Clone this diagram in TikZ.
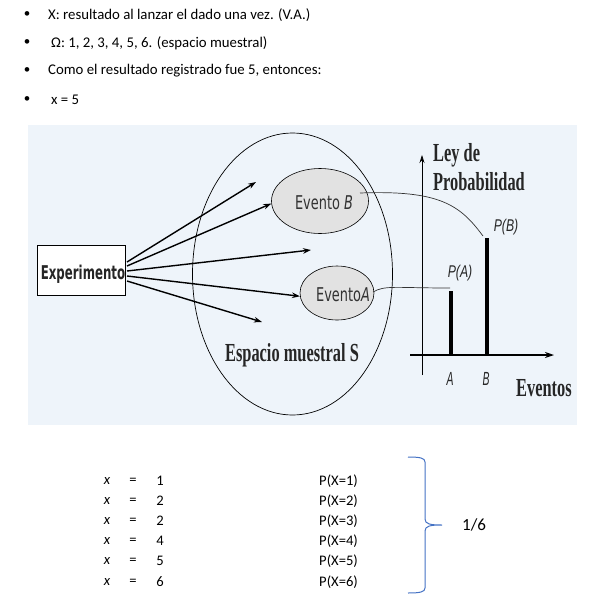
\documentclass[tikz,border=0pt]{standalone}
\usepackage{fontspec}
\setmainfont{Carlito}
\newfontfamily\condsans[FakeStretch=0.68]{DejaVu Sans}
\newfontfamily\condsansbold[FakeStretch=0.62]{DejaVu Sans Bold}
\newfontfamily\narrowsans[FakeStretch=0.72]{Liberation Sans}
\newfontfamily\narrowsansB[FakeStretch=0.55]{Liberation Sans}
\newfontfamily\condserif[FakeStretch=0.63]{Liberation Serif Bold}
\usetikzlibrary{arrows.meta,shapes.geometric}
\definecolor{bgblue}{HTML}{EEF4FA}
\definecolor{evgray}{HTML}{E2E2E2}
\definecolor{braceblue}{HTML}{4472C4}
\tikzset{
  bodytext/.style={anchor=west,inner sep=0pt,font=\fontsize{14.8}{17}\selectfont},
  bullet/.style={inner sep=0pt,font=\fontsize{13}{15}\selectfont},
  tabtext/.style={inner sep=0pt,font=\fontsize{14.6}{16}\selectfont},
  arr/.style={line width=1.4pt,-{Stealth[length=8pt,width=5.5pt]}},
  evell/.style={ellipse,draw,line width=0.6pt,fill=evgray,inner sep=0pt},
  evlab/.style={inner sep=0pt,font=\condsans\fontsize{19}{21}\selectfont,text=black!80},
  serlab/.style={inner sep=0pt,font=\condserif\fontsize{26}{28}\selectfont,text=black!85},
  plab/.style={inner sep=0pt,font=\narrowsans\itshape\fontsize{17}{19}\selectfont,text=black!85},
  ablab/.style={inner sep=0pt,font=\narrowsansB\itshape\fontsize{19}{21}\selectfont,text=black!85},
}
\begin{document}
\begin{tikzpicture}[x=1pt,y=-1pt]
\useasboundingbox (0,0) rectangle (599,606);
% top bullets
\foreach \yy in {15,43,71,100}{\node[bullet] (b\yy) at (27,\yy) {•};}
\node[bodytext] (t1) at (48,15) {X: resultado al lanzar el dado una vez. (V.A.)};
\node[bodytext] (t2) at (51,43) {Ω: 1, 2, 3, 4, 5, 6. (espacio muestral)};
\node[bodytext] (t3) at (48,71) {Como el resultado registrado fue 5, entonces:};
\node[bodytext] (t4) at (51,100) {x = 5};
% diagram background
\fill[bgblue] (28,125) rectangle (577,425);
% sample space
\node[ellipse,draw,line width=0.7pt,minimum width=200pt,minimum height=282pt,inner sep=0pt] (S) at (292.5,274) {};
\node[serlab,anchor=base] (Slab) at (292,361) {Espacio muestral S};
% experiment box
\node[draw,line width=0.8pt,fill=white,minimum width=88pt,minimum height=50pt,inner sep=0pt] (E) at (81,270) {};
\node[inner sep=0pt,anchor=base,font=\condsansbold\fontsize{19}{21}\selectfont,text=black!85] (Elab) at (83,279) {Experimento};
% events
\node[evell,minimum width=97pt,minimum height=65pt] (EB) at (320,201) {};
\node[evlab] (EBlab) at (324,203) {Evento \textit{B}};
\node[evell,minimum width=74pt,minimum height=54pt] (EA) at (337,293) {};
\node[evlab] (EAlab) at (343,295) {Evento\textit{A}};
% arrows
\coordinate (o1) at (127,262);
\coordinate (o2) at (127,266);
\coordinate (o3) at (127,271);
\coordinate (o4) at (127,276);
\coordinate (o5) at (127,281);
\coordinate (a1) at (256,182);
\coordinate (a3) at (311,250);
\coordinate (a5) at (262,322);
\draw[arr] (o1) -- (a1);
\draw[arr] (o2) -- (EB.183);
\draw[arr] (o3) -- (a3);
\draw[arr] (o4) -- (EA.185);
\draw[arr] (o5) -- (a5);
% chart axes
\coordinate (vb) at (422,375);
\coordinate (vt) at (422,155);
\coordinate (hl) at (410,355);
\coordinate (hr) at (554,355);
\draw[line width=0.7pt,-{Stealth[length=8pt,width=5pt]}] (vb) -- (vt);
\draw[line width=1.2pt,-{Stealth[length=9pt,width=6pt]}] (hl) -- (hr);
% bars
\coordinate (Abot) at (451,355);
\coordinate (Atop) at (451,291);
\coordinate (Bbot) at (487,355);
\coordinate (Btop) at (487,238);
\draw[line width=3.5pt] (Abot) -- (Atop);
\draw[line width=3.5pt] (Bbot) -- (Btop);
% connection curves
\coordinate (cB) at (360,193);
\coordinate (cBe) at (483,236);
\coordinate (cA) at (373,292);
\coordinate (cAe) at (450,288);
\draw[line width=0.7pt,black!80] (cB) .. controls (440,190) and (460,205) .. (cBe);
\draw[line width=0.7pt,black!80] (cA) .. controls (385,285) and (395,288) .. (cAe);
% chart labels
\node[plab] (PA) at (460,273) {\textit{P}(\textit{A})};
\node[plab] (PB) at (506,227) {\textit{P}(\textit{B})};
\node[ablab] (LA) at (450,379) {\textit{A}};
\node[ablab] (LB) at (486,379) {\textit{B}};
\node[serlab,anchor=base west] (Ev) at (516,396) {Eventos};
\node[serlab,anchor=base west] (Ley1) at (433,161) {Ley de};
\node[serlab,anchor=base west] (Ley2) at (433,190) {Probabilidad};
% table
\foreach \yy/\vv [count=\i] in {481/1,501/2,521/2,541/4,561/5,582/6}{
  \node[tabtext] (x\i) at (107,\yy) {\textit{x}};
  \node[tabtext] (eq\i) at (133,\yy) {=};
  \node[tabtext] (v\i) at (160,\yy) {\vv};
}
\foreach \yy [count=\i] in {481,501,521,541,561,582}{
  \node[tabtext,anchor=west] (p\i) at (319,\yy) {P(X=\i)};
}
% brace
\coordinate (br1) at (408,457);
\coordinate (brm) at (442,525);
\coordinate (br2) at (408,593);
\draw[braceblue,line width=1pt] (br1) .. controls (420,457) and (425,458) .. (425,462) -- (425,519) .. controls (425,524) and (430,525) .. (brm) .. controls (430,525) and (425,526) .. (425,531) -- (425,588) .. controls (425,592) and (420,593) .. (br2);
\node[inner sep=0pt,anchor=west,font=\fontsize{17}{19}\selectfont] (sixth) at (462,525) {1/6};
\end{tikzpicture}
\end{document}
